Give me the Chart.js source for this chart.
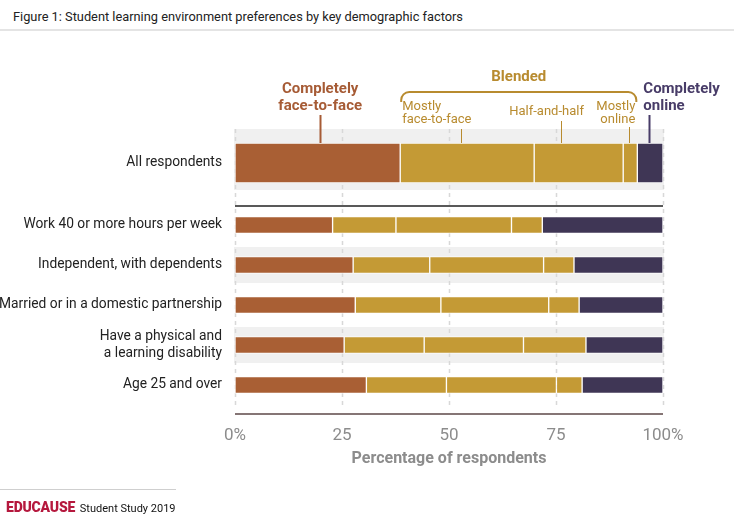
<!DOCTYPE html>
<html>
<head>
<meta charset="utf-8">
<script src="https://cdn.jsdelivr.net/npm/chart.js@4.4.1/dist/chart.umd.min.js"></script>
<style>
  html, body { margin: 0; padding: 0; background: #fff; }
  body { width: 734px; height: 519px; position: relative; overflow: hidden; font-family: Roboto, sans-serif; }
  #box { position: absolute; left: 0; top: 0; width: 734px; height: 519px; }
  .title { position: absolute; left: 13px; top: 9px; font-size: 12.8px; color: #222; white-space: nowrap; }
  .rule { position: absolute; left: 0; top: 29px; width: 734px; height: 2px; background: #e4e4e4; }
  .foot-rule { position: absolute; left: 0; top: 489px; width: 176px; height: 1px; background: #cfcfcf; }
  .foot { position: absolute; left: 6px; top: 499px; font-size: 11px; color: #111; white-space: nowrap; }
  .foot b { color: #b5183d; font-size: 14px; font-weight: 900; letter-spacing: -0.2px; margin-right: 2px; }
</style>
</head>
<body>
<div class="title">Figure 1: Student learning environment preferences by key demographic factors</div>
<div class="rule"></div>
<div id="box"><canvas id="chart" width="734" height="519"></canvas></div>
<div class="foot-rule"></div>
<div class="foot"><b>EDUCAUSE</b> Student Study 2019</div>
<script>
// categories
const topLabels = ["All respondents"];
const rowLabels = [
  "Work 40 or more hours per week",
  "Independent, with dependents",
  "Married or in a domestic partnership",
  ["Have a physical and", "a learning disability"],
  "Age 25 and over"
];
const seriesNames = ["Completely face-to-face", "Mostly face-to-face", "Half-and-half", "Mostly online", "Completely online"];

// values (% of respondents)
const allRespondents = [38.6, 31.3, 20.8, 3.3, 6.0];
const faceToFace   = [22.8, 27.6, 28.1, 25.5, 30.7];
const mostlyFace   = [14.8, 17.9, 20.0, 18.7, 18.7];
const halfAndHalf  = [27.0, 26.6, 25.2, 23.2, 25.7];
const mostlyOnline = [7.2, 7.1, 7.1, 14.6, 6.0];
const online       = [28.2, 20.8, 19.6, 18.0, 18.9];
const rowSeries = [faceToFace, mostlyFace, halfAndHalf, mostlyOnline, online];

const xTickLabels = ["0%", "25", "50", "75", "100%"];

const BROWN = "#a95f34", GOLD = "#c49a35", PURPLE = "#3f3655";
const barColors = [BROWN, GOLD, GOLD, GOLD, PURPLE];

const datasets = [];
seriesNames.forEach((name, i) => {
  datasets.push({
    label: name, data: [allRespondents[i]], yAxisID: "yTop", grouped: false,
    backgroundColor: barColors[i], borderColor: "rgba(255,255,255,0.8)",
    borderWidth: 1, borderSkipped: false, barThickness: 40
  });
  datasets.push({
    label: name, data: rowSeries[i], yAxisID: "yRows", grouped: false,
    backgroundColor: barColors[i], borderColor: "rgba(255,255,255,0.8)",
    borderWidth: 1, borderSkipped: false, barThickness: 17
  });
});

const labelFont = { family: "Roboto", size: 13.8 };

// bands, gridlines, separators and the header labels
const decor = {
  id: "decor",
  beforeDatasetsDraw(chart) {
    const { ctx, scales } = chart;
    const x = scales.x, yTop = scales.yTop, yRows = scales.yRows;
    const left = x.getPixelForValue(0) - 1, right = x.getPixelForValue(100) + 1;
    ctx.save();
    ctx.fillStyle = "#f0f0f0";
    const c0 = yTop.getPixelForValue(0);
    ctx.fillRect(left, c0 - 34, right - left, 61);
    [1, 3].forEach(i => {
      const c = yRows.getPixelForValue(i);
      ctx.fillRect(left, c - 18, right - left, 36);
    });
    ctx.strokeStyle = "#d8d8d8";
    ctx.lineWidth = 1.5;
    ctx.setLineDash([4, 4]);
    [0, 25, 50, 75, 100].forEach(v => {
      const px = Math.round(x.getPixelForValue(v)) + 0.5;
      ctx.beginPath();
      ctx.moveTo(px, c0 - 34);
      ctx.lineTo(px, chart.chartArea.bottom + 4);
      ctx.stroke();
    });
    ctx.restore();
  },
  afterDatasetsDraw(chart) {
    const { ctx, scales, chartArea } = chart;
    const x = scales.x, yTop = scales.yTop;
    ctx.save();
    // separator under "All respondents"
    ctx.strokeStyle = "#222";
    ctx.lineWidth = 1.5;
    ctx.beginPath();
    ctx.moveTo(x.getPixelForValue(0), yTop.bottom + 1);
    ctx.lineTo(x.getPixelForValue(100), yTop.bottom + 1);
    ctx.stroke();
    // value axis line
    ctx.strokeStyle = "#857575";
    ctx.lineWidth = 2;
    ctx.beginPath();
    ctx.moveTo(x.getPixelForValue(0), chartArea.bottom + 9);
    ctx.lineTo(x.getPixelForValue(100), chartArea.bottom + 9);
    ctx.stroke();

    const barTop = yTop.getPixelForValue(0) - 20;
    const px = v => x.getPixelForValue(v);
    const cum = [];
    allRespondents.reduce((s, v, i) => (cum[i] = s + v), 0);

    function leader(v, y0, color, w) {
      ctx.strokeStyle = color; ctx.lineWidth = w;
      const p = Math.round(px(v)) + 0.5;
      ctx.beginPath(); ctx.moveTo(p, y0); ctx.lineTo(p, barTop); ctx.stroke();
    }
    function text(lines, xx, y, align, font, color, lh) {
      ctx.font = font; ctx.fillStyle = color; ctx.textAlign = align; ctx.textBaseline = "middle";
      lines.forEach((t, i) => ctx.fillText(t, xx, y + i * lh));
    }

    const TB = "#a65b35", TG = "#b88b2f", TP = "#483c68";
    // Completely face-to-face
    text(["Completely", "face-to-face"], px(19.9), barTop - 54, "center", "bold 15px Roboto", TB, 17);
    leader(19.9, barTop - 28, TB, 2);
    // Blended brace
    const bx0 = px(cum[0]) + 1, bx1 = px(cum[3]) - 1, by = barTop - 51, r = 8;
    ctx.strokeStyle = TG; ctx.lineWidth = 2;
    ctx.beginPath();
    ctx.moveTo(bx0, by + r + 2);
    ctx.arcTo(bx0, by, bx0 + r, by, r);
    ctx.lineTo(bx1 - r, by);
    ctx.arcTo(bx1, by, bx1, by + r, r);
    ctx.lineTo(bx1, by + r + 2);
    ctx.stroke();
    text(["Blended"], (bx0 + bx1) / 2, barTop - 66, "center", "bold 15px Roboto", TG, 17);
    // sub-categories
    text(["Mostly", "face-to-face"], px(cum[0]) + 2, barTop - 36, "left", "13px Roboto", TG, 13);
    leader(52.8, barTop - 14, TG, 1);
    text(["Half-and-half"], px(72.8), barTop - 31, "center", "13px Roboto", TG, 13);
    leader(76.2, barTop - 22, TG, 1);
    text(["Mostly", "online"], px(cum[3]) - 2, barTop - 36, "right", "13px Roboto", TG, 13);
    leader(92.1, barTop - 16, TG, 1);
    // Completely online
    text(["Completely", "online"], px(cum[3]) + 6, barTop - 54, "left", "bold 15px Roboto", TP, 17);
    leader(96.7, barTop - 28, TP, 2);
    ctx.restore();
  }
};

new Chart(document.getElementById("chart"), {
  type: "bar",
  data: { datasets },
  options: {
    indexAxis: "y",
    responsive: false,
    animation: false,
    layout: { padding: { top: 121, right: 71, left: 0, bottom: 0 } },
    plugins: { legend: { display: false }, tooltip: { enabled: false } },
    scales: {
      x: {
        type: "linear", min: 0, max: 100, stacked: true, position: "bottom",
        grid: { display: false, drawTicks: false }, border: { display: false },
        ticks: {
          stepSize: 25, color: "#8c8c8c", padding: 21,
          font: { family: "Roboto", size: 17 },
          callback: (v, i) => xTickLabels[i]
        },
        title: {
          display: true, text: "Percentage of respondents", color: "#8c8c8c",
          font: { family: "Roboto", size: 16, weight: "bold" },
          padding: { top: 0, bottom: 50 }
        },
        afterFit(s) { s.height = 114; }
      },
      yTop: {
        type: "category", labels: topLabels, position: "left", stacked: true,
        stack: "rows", stackWeight: 84, weight: 1, offset: true,
        grid: { display: false, drawTicks: false }, border: { display: false },
        ticks: { color: "#222", font: labelFont, padding: 13, autoSkip: false },
        afterFit(s) { s.width = 235; }
      },
      yRows: {
        type: "category", labels: rowLabels, position: "left", stacked: true,
        stack: "rows", stackWeight: 200, weight: 0, offset: true,
        grid: { display: false, drawTicks: false }, border: { display: false },
        ticks: { color: "#222", font: labelFont, padding: 13, autoSkip: false },
        afterFit(s) { s.width = 235; }
      }
    }
  },
  plugins: [decor]
});
</script>
</body>
</html>
